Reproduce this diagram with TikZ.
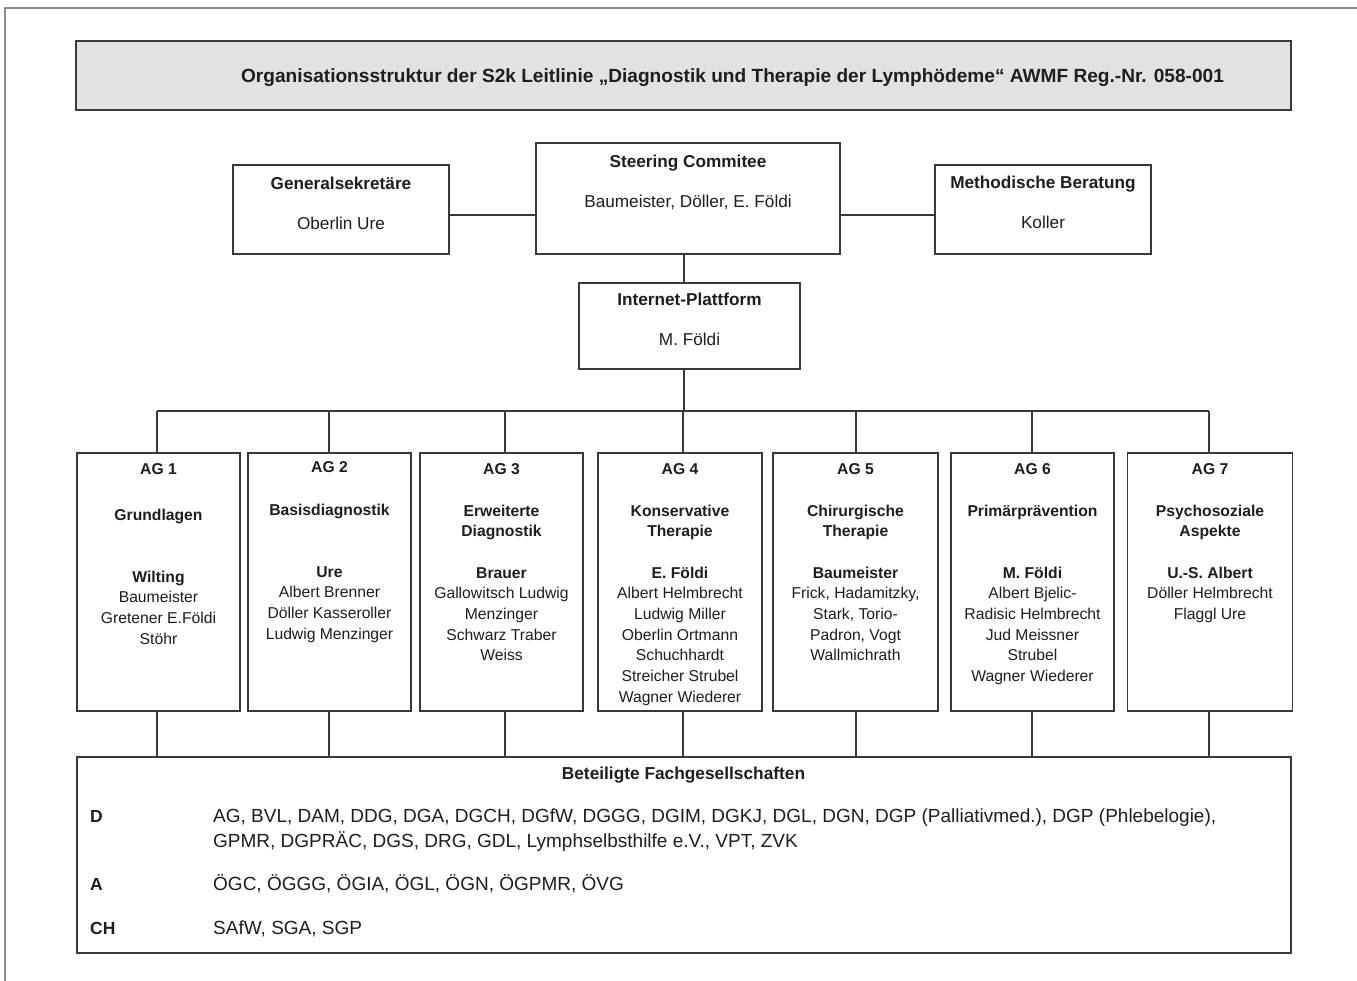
\documentclass[tikz,border=0pt]{standalone}
\usepackage{fontspec}
\setmainfont{Liberation Sans}
\definecolor{ink}{HTML}{1E1E1E}
\definecolor{linec}{HTML}{3A3A3A}
\definecolor{titlefill}{HTML}{E2E2E2}
\definecolor{framec}{HTML}{8C8C8C}
\tikzset{
  box/.style={draw=linec, line width=1.8pt, fill=white, inner sep=0pt},
  conn/.style={draw=linec, line width=1.5pt},
  ttl/.style={font=\bfseries\fontsize{19.1}{22}\selectfont, text=ink, inner sep=0pt, anchor=base},
  topb/.style={font=\bfseries\fontsize{17.2}{20}\selectfont, text=ink, inner sep=0pt, anchor=base},
  topr/.style={font=\fontsize{17.2}{20}\selectfont, text=ink, inner sep=0pt, anchor=base},
  agb/.style={font=\bfseries\fontsize{15.7}{20.7}\selectfont, text=ink, inner sep=0pt, anchor=base},
  agr/.style={font=\fontsize{15.7}{20.7}\selectfont, text=ink, inner sep=0pt, anchor=base},
  fachb/.style={font=\bfseries\fontsize{17.3}{20}\selectfont, text=ink, inner sep=0pt, anchor=base},
  labb/.style={font=\bfseries\fontsize{17.5}{20}\selectfont, text=ink, inner sep=0pt, anchor=base west},
  fachr/.style={font=\fontsize{19}{24}\selectfont, text=ink, inner sep=0pt, anchor=base west},
  agbox/.style={box, minimum height=258pt}
}
\newcommand\agLines[5]{%
  \foreach \k/\t in {#4} \node[agb] (#1-\k) at (#2, {474.6+#3+20.7*\k}) {\t};
  \foreach \k/\t in {#5} \node[agr] (#1-\k) at (#2, {474.6+#3+20.7*\k}) {\t};
}
\begin{document}
\begin{tikzpicture}[x=1pt,y=-1pt]
\useasboundingbox (0,0) rectangle (1357,981);
% page frame
\draw[framec, line width=1.6pt] (5,981) -- (5,8) -- (1357,8);
% title
\node[box, fill=titlefill, line width=2.2pt, minimum width=1215pt, minimum height=69pt] (title) at (683.5,75.5) {};
\node[ttl] (titletext) at (732.5,83) {Organisationsstruktur der S2k Leitlinie „Diagnostik und Therapie der Lymphödeme“ AWMF Reg.-Nr. 058-001};
% top row
\node[box, minimum width=216pt, minimum height=89pt] (gen) at (341,209.5) {};
\node[topb] (gen1) at (341,190) {Generalsekretäre};
\node[topr] (gen2) at (341,230) {Oberlin Ure};
\node[box, line width=2.8pt, minimum width=304pt, minimum height=111pt] (steer) at (688,198.5) {};
\node[topb] (steer1) at (688,168) {Steering Commitee};
\node[topr] (steer2) at (688,208) {Baumeister, Döller, E. Földi};
\node[box, minimum width=216pt, minimum height=89pt] (meth) at (1043,209.5) {};
\node[topb] (meth1) at (1043,189) {Methodische Beratung};
\node[topr] (meth2) at (1043,229) {Koller};
\node[box, minimum width=221pt, minimum height=86pt] (inet) at (689.5,326) {};
\node[topb] (inet1) at (689.5,306) {Internet-Plattform};
\node[topr] (inet2) at (689.5,346) {M. Földi};
% AG boxes
\node[agbox, minimum width=163pt] (ag1) at (158.5,582) {};
\node[agbox, minimum width=163pt] (ag2) at (329.5,582) {};
\node[agbox, minimum width=163pt] (ag3) at (501.5,582) {};
\node[agbox, minimum width=164pt] (ag4) at (680,582) {};
\node[agbox, minimum width=165pt] (ag5) at (855.5,582) {};
\node[agbox, minimum width=163pt] (ag6) at (1032.5,582) {};
\node[agbox, minimum width=165pt] (ag7) at (1210,582) {};
\node[agb] (ag1h) at (158.5,474.6) {AG 1};
\node[agb] (ag2h) at (329.5,472.6) {AG 2};
\node[agb] (ag3h) at (501.5,474.6) {AG 3};
\node[agb] (ag4h) at (680,474.6) {AG 4};
\node[agb] (ag5h) at (855.5,474.6) {AG 5};
\node[agb] (ag6h) at (1032.5,474.6) {AG 6};
\node[agb] (ag7h) at (1210,474.6) {AG 7};
\agLines{ag1t}{158.5}{4}{2/Grundlagen, 5/Wilting}{6/Baumeister, 7/{Gretener E.Földi}, 8/Stöhr}
\agLines{ag2t}{329.5}{-1}{2/Basisdiagnostik, 5/Ure}{6/{Albert Brenner}, 7/{Döller Kasseroller}, 8/{Ludwig Menzinger}}
\agLines{ag3t}{501.5}{0}{2/Erweiterte, 3/Diagnostik, 5/Brauer}{6/{Gallowitsch Ludwig}, 7/Menzinger, 8/{Schwarz Traber}, 9/Weiss}
\agLines{ag4t}{680}{0}{2/Konservative, 3/Therapie, 5/{E. Földi}}{6/{Albert Helmbrecht}, 7/{Ludwig Miller}, 8/{Oberlin Ortmann}, 9/Schuchhardt, 10/{Streicher Strubel}, 11/{Wagner Wiederer}}
\agLines{ag5t}{855.5}{0}{2/Chirurgische, 3/Therapie, 5/Baumeister}{6/{Frick, Hadamitzky,}, 7/{Stark, Torio-}, 8/{Padron, Vogt}, 9/Wallmichrath}
\agLines{ag6t}{1032.5}{0}{2/Primärprävention, 5/{M. Földi}}{6/{Albert Bjelic-}, 7/{Radisic Helmbrecht}, 8/{Jud Meissner}, 9/Strubel, 10/{Wagner Wiederer}}
\agLines{ag7t}{1210}{0}{2/Psychosoziale, 3/Aspekte, 5/{U.-S. Albert}}{6/{Döller Helmbrecht}, 7/{Flaggl Ure}}
% bottom box
\node[box, minimum width=1214pt, minimum height=196pt] (fach) at (684,855) {};
\node[fachb] (fachtitle) at (683.5,779) {Beteiligte Fachgesellschaften};
\node[labb] (labD) at (90,822) {D};
\node[fachr] (txtD1) at (213,822) {AG, BVL, DAM, DDG, DGA, DGCH, DGfW, DGGG, DGIM, DGKJ, DGL, DGN, DGP (Palliativmed.), DGP (Phlebelogie),};
\node[fachr] (txtD2) at (213,847) {GPMR, DGPRÄC, DGS, DRG, GDL, Lymphselbsthilfe e.V., VPT, ZVK};
\node[labb] (labA) at (90,890) {A};
\node[fachr] (txtA) at (213,890) {ÖGC, ÖGGG, ÖGIA, ÖGL, ÖGN, ÖGPMR, ÖVG};
\node[labb] (labCH) at (90,934) {CH};
\node[fachr] (txtCH) at (213,934) {SAfW, SGA, SGP};
% connectors
\coordinate (spine) at (684,411);
\foreach \i/\cx in {1/157, 2/329, 3/505, 4/683, 5/856, 6/1032, 7/1209}
  \coordinate (bus\i) at (\cx,411);
\draw[conn] ([yshift=-5.5pt]gen.east) -- ([yshift=-5.5pt]gen.east -| steer.west);
\draw[conn] ([yshift=-5.5pt]meth.west) -- ([yshift=-5.5pt]meth.west -| steer.east);
\draw[conn] (steer.south -| spine) -- (inet.north -| spine);
\draw[conn] (inet.south -| spine) -- (spine);
\draw[conn] (bus1) -- (bus7);
\foreach \i in {1,...,7} {
  \draw[conn] (ag\i.north -| bus\i) -- (bus\i);
  \draw[conn] (ag\i.south -| bus\i) -- (fach.north -| bus\i);
}
\end{tikzpicture}
\end{document}
